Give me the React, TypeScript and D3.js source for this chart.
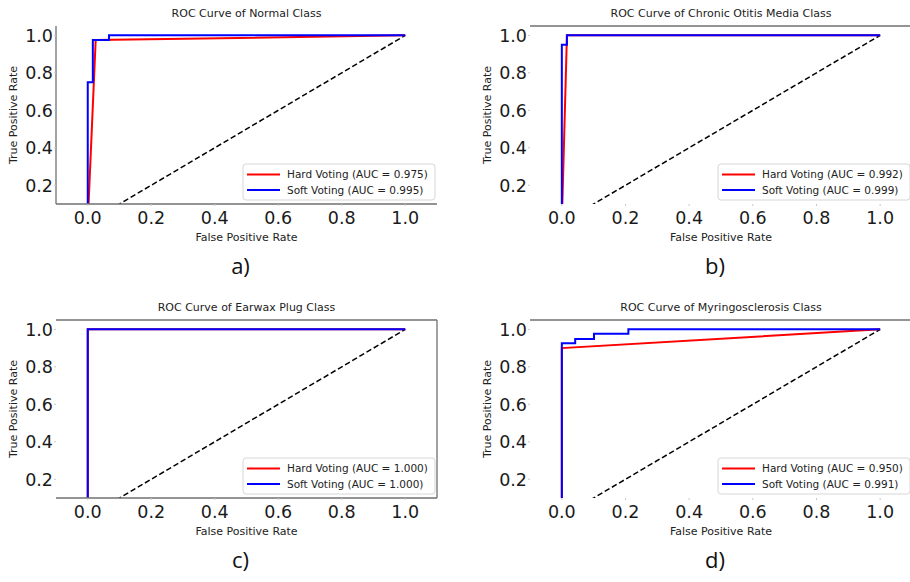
import * as d3 from "d3";

// axis ticks
const fprTicks = [0, 0.2, 0.4, 0.6, 0.8, 1.0];
const tprTicks = [0.2, 0.4, 0.6, 0.8, 1.0];

// panel texts
const titles = [
  "ROC Curve of Normal Class",
  "ROC Curve of Chronic Otitis Media Class",
  "ROC Curve of Earwax Plug Class",
  "ROC Curve of Myringosclerosis Class",
];
const letters = ["a)", "b)", "c)", "d)"];
const hardAuc = ["0.975", "0.992", "1.000", "0.950"];
const softAuc = ["0.995", "0.999", "1.000", "0.991"];

// ROC points [fpr, tpr]
const normalHard = [[0, 0], [0.025, 0.975], [1, 1]];
const normalSoft = [[0, 0], [0, 0.75], [0.016, 0.75], [0.016, 0.975], [0.067, 0.975], [0.067, 1], [1, 1]];
const otitisHard = [[0, 0], [0.016, 1], [1, 1]];
const otitisSoft = [[0, 0], [0, 0.95], [0.016, 0.95], [0.016, 1], [1, 1]];
const earwaxHard = [[0, 0], [0, 1], [1, 1]];
const earwaxSoft = [[0, 0], [0, 1], [1, 1]];
const myringHard = [[0, 0], [0, 0.9], [1, 1]];
const myringSoft = [[0, 0], [0, 0.926], [0.042, 0.926], [0.042, 0.949], [0.101, 0.949], [0.101, 0.977], [0.209, 0.977], [0.209, 1], [1, 1]];
const chance = [[0, 0], [1, 1]];

const hardSeries = [normalHard, otitisHard, earwaxHard, myringHard];
const softSeries = [normalSoft, otitisSoft, earwaxSoft, myringSoft];

const colLeft = [56, 530];
const colRight = [437, 912];
const rowTop = [26, 320];
const rowBottom = [204, 498];
// which spines survived in each panel of the picture
const spines = [
  ["left", "bottom"],
  ["top"],
  ["top", "right", "bottom"],
  ["top"],
];

const font = "'DejaVu Sans', sans-serif";
const spineColor = "#707070";

function Panel({ i }: { i: number }) {
  const col = i % 2, row = Math.floor(i / 2);
  const left = colLeft[col], right = colRight[col];
  const top = rowTop[row], bottom = rowBottom[row];
  const x = d3.scaleLinear().domain([-0.1, 1.1]).range([left, right]);
  const y = d3.scaleLinear().domain([0.1, 1.05]).range([bottom, top]);
  const line = d3.line<number[]>().x((d) => x(d[0])).y((d) => y(d[1]));
  const cx = (left + right) / 2;
  const clip = `clip${i}`;
  const lx = right - 194, ly = bottom - 40;
  const sp = spines[i];

  return (
    <g>
      <defs>
        <clipPath id={clip}>
          <rect x={left} y={top} width={right - left} height={bottom - top} />
        </clipPath>
      </defs>
      <text x={cx} y={top - 9} textAnchor="middle" fontSize={11} fontFamily={font} fill="#222">
        {titles[i]}
      </text>
      <g clipPath={`url(#${clip})`} fill="none">
        <path d={line(chance) || ""} stroke="#000" strokeWidth={1.5} strokeDasharray="5.5,2.8" />
        <path d={line(hardSeries[i]) || ""} stroke="#ff0000" strokeWidth={2} />
        <path d={line(softSeries[i]) || ""} stroke="#0000ff" strokeWidth={2} />
      </g>
      {sp.includes("left") && <line x1={left} x2={left} y1={top} y2={bottom} stroke={spineColor} strokeWidth={1.3} />}
      {sp.includes("right") && <line x1={right} x2={right} y1={top} y2={bottom} stroke={spineColor} strokeWidth={1.3} />}
      {sp.includes("top") && <line x1={left} x2={right} y1={top} y2={top} stroke={spineColor} strokeWidth={1.3} />}
      {sp.includes("bottom") && <line x1={left} x2={right} y1={bottom} y2={bottom} stroke={spineColor} strokeWidth={1.3} />}
      {tprTicks.map((t) => (
        <g key={"y" + t}>
          <line x1={left - 2} x2={left} y1={y(t)} y2={y(t)} stroke="#c8c8c8" />
          <text x={left - 3} y={y(t) + 6.4} textAnchor="end" fontSize={17.5} fontFamily={font} fill="#1a1a1a">
            {t.toFixed(1)}
          </text>
        </g>
      ))}
      {fprTicks.map((t) => (
        <g key={"x" + t}>
          <line x1={x(t)} x2={x(t)} y1={bottom} y2={bottom + 2} stroke="#c8c8c8" />
          <text x={x(t)} y={bottom + 19.5} textAnchor="middle" fontSize={17.5} fontFamily={font} fill="#1a1a1a">
            {t.toFixed(1)}
          </text>
        </g>
      ))}
      <text
        transform={`translate(${left - 39},${(top + bottom) / 2}) rotate(-90)`}
        textAnchor="middle"
        fontSize={11}
        fontFamily={font}
        fill="#222"
      >
        True Positive Rate
      </text>
      <text x={cx} y={bottom + 37} textAnchor="middle" fontSize={11} fontFamily={font} fill="#222">
        False Positive Rate
      </text>
      <rect x={lx} y={ly} width={192} height={36} rx={3} fill="#fff" fillOpacity={0.85} stroke="#d6d6d6" />
      <line x1={lx + 4} x2={lx + 37} y1={ly + 10.5} y2={ly + 10.5} stroke="#ff0000" strokeWidth={2} />
      <line x1={lx + 4} x2={lx + 37} y1={ly + 26} y2={ly + 26} stroke="#0000ff" strokeWidth={2} />
      <text x={lx + 44} y={ly + 14.3} fontSize={10.5} fontFamily={font} fill="#222">
        {`Hard Voting (AUC = ${hardAuc[i]})`}
      </text>
      <text x={lx + 44} y={ly + 29.8} fontSize={10.5} fontFamily={font} fill="#222">
        {`Soft Voting (AUC = ${softAuc[i]})`}
      </text>
      <text x={cx - 6} y={bottom + 70} textAnchor="middle" fontSize={22} fontFamily="'Open Sans', sans-serif" fill="#111">
        {letters[i]}
      </text>
    </g>
  );
}

export default function App() {
  return (
    <svg
      width={910}
      height={582}
      style={{ position: "absolute", left: 0, top: 0, background: "#fff" }}
    >
      <rect width={910} height={582} fill="#fff" />
      {[0, 1, 2, 3].map((i) => (
        <Panel key={i} i={i} />
      ))}
    </svg>
  );
}
